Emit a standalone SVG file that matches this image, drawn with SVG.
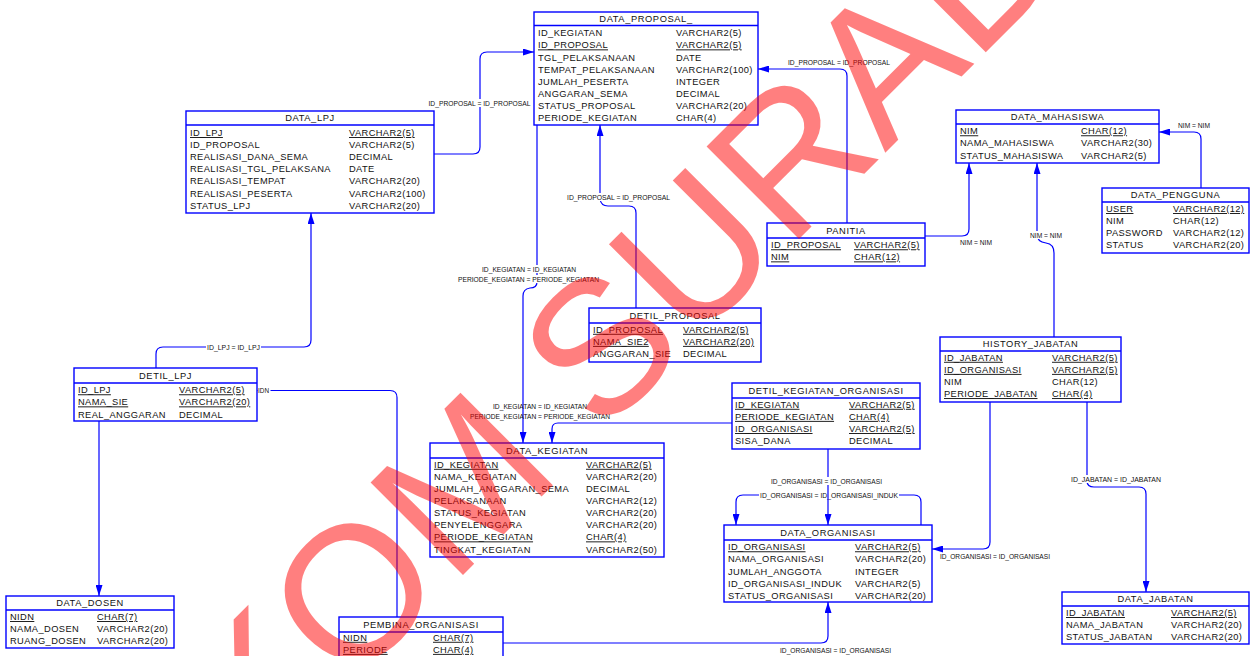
<svg xmlns="http://www.w3.org/2000/svg" width="1250" height="656" viewBox="0 0 1250 656">
<style>
.box{fill:#fff;stroke:#0000ff;stroke-width:1.4}
.hd{stroke:#0000ff;stroke-width:1.4}
text{font-family:"Liberation Sans",Arial,sans-serif;fill:#111}
.t{font-size:9.3px;letter-spacing:0.6px;text-anchor:middle}
.f{font-size:9.3px;letter-spacing:0.4px}
.pk{text-decoration:underline}
.cn{fill:none;stroke:#0000ff;stroke-width:1.2}
.lb{font-size:7px;text-anchor:middle}
.bg{fill:#fff}
.wm{font-size:190px;fill:#ff0000;fill-opacity:0.5;font-family:"Liberation Sans",Arial,sans-serif}
</style>
<defs>
<marker id="ar" markerUnits="userSpaceOnUse" markerWidth="11" markerHeight="7" refX="11" refY="3.5" orient="auto">
<path d="M0,0 L11,3.5 L0,7 z" fill="#0000ff"/>
</marker>
</defs>
<rect width="1250" height="656" fill="#fff"/>

<g id="connectors">
<path class="cn" d="M434,154 H473 Q480,154 480,147 V59 Q480,52 487,52 H534" marker-end="url(#ar)"/>
<rect class="bg" x="428" y="99" width="103" height="8"/><text class="lb" x="479.5" y="105.5" textLength="102" lengthAdjust="spacingAndGlyphs">ID_PROPOSAL = ID_PROPOSAL</text>

<path class="cn" d="M847,223 V76 Q847,69 840,69 H758" marker-end="url(#ar)"/>
<text class="lb" x="839" y="64.5" textLength="102" lengthAdjust="spacingAndGlyphs">ID_PROPOSAL = ID_PROPOSAL</text>

<path class="cn" d="M925,236 H962 Q969,236 969,229 V163" marker-end="url(#ar)"/>
<text class="lb" x="976" y="244.5" textLength="32" lengthAdjust="spacingAndGlyphs">NIM = NIM</text>

<path class="cn" d="M1054,337 V253 Q1054,244 1046,243 Q1037,242 1037,234 V163" marker-end="url(#ar)"/>
<rect class="bg" x="1029" y="231" width="34" height="8"/><text class="lb" x="1046" y="237.5" textLength="32" lengthAdjust="spacingAndGlyphs">NIM = NIM</text>

<path class="cn" d="M1201,188 V139 Q1201,132 1194,132 H1159" marker-end="url(#ar)"/>
<text class="lb" x="1194" y="127.5" textLength="32" lengthAdjust="spacingAndGlyphs">NIM = NIM</text>

<path class="cn" d="M636,308 V213 Q636,206 629,206 H608 Q601,206 600,199 V125" marker-end="url(#ar)"/>
<rect class="bg" x="566" y="193" width="105" height="8"/><text class="lb" x="618.5" y="199.5" textLength="103" lengthAdjust="spacingAndGlyphs">ID_PROPOSAL = ID_PROPOSAL</text>

<path class="cn" d="M537,125 V282 Q537,288 530,288 Q523,289 523,296 V443" marker-end="url(#ar)"/>
<rect class="bg" x="481" y="265" width="96" height="8"/><text class="lb" x="529" y="271.5" textLength="94" lengthAdjust="spacingAndGlyphs">ID_KEGIATAN = ID_KEGIATAN</text>
<rect class="bg" x="457" y="275" width="143" height="8"/><text class="lb" x="528.5" y="281.8" textLength="141" lengthAdjust="spacingAndGlyphs">PERIODE_KEGIATAN = PERIODE_KEGIATAN</text>

<path class="cn" d="M732,423 H558 Q552,423 552,429 V443" marker-end="url(#ar)"/>
<text class="lb" x="540" y="409.3" textLength="94" lengthAdjust="spacingAndGlyphs">ID_KEGIATAN = ID_KEGIATAN</text>
<text class="lb" x="540" y="418.5" textLength="140" lengthAdjust="spacingAndGlyphs">PERIODE_KEGIATAN = PERIODE_KEGIATAN</text>

<path class="cn" d="M156,368 V354 Q156,347 163,347 H304 Q311,347 311,340 V213" marker-end="url(#ar)"/>
<rect class="bg" x="206" y="343" width="55" height="8"/><text class="lb" x="233.5" y="349.5" textLength="53" lengthAdjust="spacingAndGlyphs">ID_LPJ = ID_LPJ</text>

<path class="cn" d="M99,421 V596" marker-end="url(#ar)"/>

<path class="cn" d="M257,390.5 H390 Q397,390.5 397,397.5 V617"/>
<rect class="bg" x="257.5" y="386.5" width="13" height="8"/><text class="lb" x="258" y="393" style="text-anchor:start" textLength="11" lengthAdjust="spacingAndGlyphs">IDN</text>

<path class="cn" d="M503,643 H821 Q828,643 828,636 V602" marker-end="url(#ar)"/>
<text class="lb" x="835.5" y="653.2" textLength="111" lengthAdjust="spacingAndGlyphs">ID_ORGANISASI = ID_ORGANISASI</text>

<path class="cn" d="M921,525 V502 Q921,495 914,495 H743 Q736,495 736,502 V525" marker-end="url(#ar)"/>
<rect class="bg" x="759" y="491" width="140" height="8"/><text class="lb" x="829" y="497.5" textLength="138" lengthAdjust="spacingAndGlyphs">ID_ORGANISASI = ID_ORGANISASI_INDUK</text>

<path class="cn" d="M828,449 V525" marker-end="url(#ar)"/>
<rect class="bg" x="770" y="477" width="113" height="8"/><text class="lb" x="826.5" y="483.5" textLength="111" lengthAdjust="spacingAndGlyphs">ID_ORGANISASI = ID_ORGANISASI</text>

<path class="cn" d="M990,402 V542 Q990,549 983,549 H932" marker-end="url(#ar)"/>
<text class="lb" x="995" y="559.2" textLength="110" lengthAdjust="spacingAndGlyphs">ID_ORGANISASI = ID_ORGANISASI</text>

<path class="cn" d="M1087,402 V481 Q1087,487 1094,487 H1139 Q1146,487 1146,494 V592" marker-end="url(#ar)"/>
<rect class="bg" x="1070" y="475" width="92" height="8"/><text class="lb" x="1116" y="481.5" textLength="90" lengthAdjust="spacingAndGlyphs">ID_JABATAN = ID_JABATAN</text>
</g>

<g id="data_proposal">
<rect class="box" x="534" y="12" width="224" height="113"/><line class="hd" x1="534" y1="25.5" x2="758" y2="25.5"/>
<text class="t" x="646" y="22">DATA_PROPOSAL_</text>
<text class="f" x="538" y="36.3">ID_KEGIATAN</text><text class="f" x="676" y="36.3">VARCHAR2(5)</text>
<text class="f pk" x="538" y="48.4">ID_PROPOSAL</text><text class="f pk" x="676" y="48.4">VARCHAR2(5)</text>
<text class="f" x="538" y="60.5">TGL_PELAKSANAAN</text><text class="f" x="676" y="60.5">DATE</text>
<text class="f" x="538" y="72.6">TEMPAT_PELAKSANAAN</text><text class="f" x="676" y="72.6">VARCHAR2(100)</text>
<text class="f" x="538" y="84.7">JUMLAH_PESERTA</text><text class="f" x="676" y="84.7">INTEGER</text>
<text class="f" x="538" y="96.8">ANGGARAN_SEMA</text><text class="f" x="676" y="96.8">DECIMAL</text>
<text class="f" x="538" y="108.9">STATUS_PROPOSAL</text><text class="f" x="676" y="108.9">VARCHAR2(20)</text>
<text class="f" x="538" y="121">PERIODE_KEGIATAN</text><text class="f" x="676" y="121">CHAR(4)</text>
</g>

<g id="data_lpj">
<rect class="box" x="186" y="111" width="248" height="102"/><line class="hd" x1="186" y1="125" x2="434" y2="125"/>
<text class="t" x="310" y="121.3">DATA_LPJ</text>
<text class="f pk" x="190" y="136">ID_LPJ</text><text class="f pk" x="349" y="136">VARCHAR2(5)</text>
<text class="f" x="190" y="148.1">ID_PROPOSAL</text><text class="f" x="349" y="148.1">VARCHAR2(5)</text>
<text class="f" x="190" y="160.2">REALISASI_DANA_SEMA</text><text class="f" x="349" y="160.2">DECIMAL</text>
<text class="f" x="190" y="172.3">REALISASI_TGL_PELAKSANA</text><text class="f" x="349" y="172.3">DATE</text>
<text class="f" x="190" y="184.4">REALISASI_TEMPAT</text><text class="f" x="349" y="184.4">VARCHAR2(20)</text>
<text class="f" x="190" y="196.5">REALISASI_PESERTA</text><text class="f" x="349" y="196.5">VARCHAR2(100)</text>
<text class="f" x="190" y="208.6">STATUS_LPJ</text><text class="f" x="349" y="208.6">VARCHAR2(20)</text>
</g>

<g id="data_mahasiswa">
<rect class="box" x="956" y="110" width="203" height="53"/><line class="hd" x1="956" y1="124" x2="1159" y2="124"/>
<text class="t" x="1057.5" y="120.3">DATA_MAHASISWA</text>
<text class="f pk" x="960" y="134.3">NIM</text><text class="f pk" x="1081" y="134.3">CHAR(12)</text>
<text class="f" x="960" y="146.4">NAMA_MAHASISWA</text><text class="f" x="1081" y="146.4">VARCHAR2(30)</text>
<text class="f" x="960" y="158.5">STATUS_MAHASISWA</text><text class="f" x="1081" y="158.5">VARCHAR2(5)</text>
</g>

<g id="data_pengguna">
<rect class="box" x="1102" y="188" width="147" height="65"/><line class="hd" x1="1102" y1="202" x2="1249" y2="202"/>
<text class="t" x="1175.5" y="198.3">DATA_PENGGUNA</text>
<text class="f pk" x="1106" y="212">USER</text><text class="f pk" x="1173" y="212">VARCHAR2(12)</text>
<text class="f" x="1106" y="224.1">NIM</text><text class="f" x="1173" y="224.1">CHAR(12)</text>
<text class="f" x="1106" y="236.2">PASSWORD</text><text class="f" x="1173" y="236.2">VARCHAR2(12)</text>
<text class="f" x="1106" y="248.3">STATUS</text><text class="f" x="1173" y="248.3">VARCHAR2(20)</text>
</g>

<g id="panitia">
<rect class="box" x="767" y="223" width="158" height="43"/><line class="hd" x1="767" y1="238" x2="925" y2="238"/>
<text class="t" x="846" y="233.8">PANITIA</text>
<text class="f pk" x="771" y="248.3">ID_PROPOSAL</text><text class="f pk" x="854" y="248.3">VARCHAR2(5)</text>
<text class="f pk" x="771" y="260.4">NIM</text><text class="f pk" x="854" y="260.4">CHAR(12)</text>
</g>

<g id="detil_proposal">
<rect class="box" x="589" y="308" width="172" height="54"/><line class="hd" x1="589" y1="323" x2="761" y2="323"/>
<text class="t" x="675" y="318.8">DETIL_PROPOSAL</text>
<text class="f pk" x="593" y="332.8">ID_PROPOSAL</text><text class="f pk" x="683" y="332.8">VARCHAR2(5)</text>
<text class="f pk" x="593" y="344.9">NAMA_SIE2</text><text class="f pk" x="683" y="344.9">VARCHAR2(20)</text>
<text class="f" x="593" y="357">ANGGARAN_SIE</text><text class="f" x="683" y="357">DECIMAL</text>
</g>

<g id="detil_lpj">
<rect class="box" x="74" y="368" width="183" height="53"/><line class="hd" x1="74" y1="383" x2="257" y2="383"/>
<text class="t" x="165.5" y="378.8">DETIL_LPJ</text>
<text class="f pk" x="78" y="393.3">ID_LPJ</text><text class="f pk" x="179" y="393.3">VARCHAR2(5)</text>
<text class="f pk" x="78" y="405.4">NAMA_SIE</text><text class="f pk" x="179" y="405.4">VARCHAR2(20)</text>
<text class="f" x="78" y="417.5">REAL_ANGGARAN</text><text class="f" x="179" y="417.5">DECIMAL</text>
</g>

<g id="data_kegiatan">
<rect class="box" x="430" y="443" width="234" height="114"/><line class="hd" x1="430" y1="458" x2="664" y2="458"/>
<text class="t" x="547" y="453.8">DATA_KEGIATAN</text>
<text class="f pk" x="434" y="467.8">ID_KEGIATAN</text><text class="f pk" x="586" y="467.8">VARCHAR2(5)</text>
<text class="f" x="434" y="479.9">NAMA_KEGIATAN</text><text class="f" x="586" y="479.9">VARCHAR2(20)</text>
<text class="f" x="434" y="492">JUMLAH_ANGGARAN_SEMA</text><text class="f" x="586" y="492">DECIMAL</text>
<text class="f" x="434" y="504.1">PELAKSANAAN</text><text class="f" x="586" y="504.1">VARCHAR2(12)</text>
<text class="f" x="434" y="516.2">STATUS_KEGIATAN</text><text class="f" x="586" y="516.2">VARCHAR2(20)</text>
<text class="f" x="434" y="528.3">PENYELENGGARA</text><text class="f" x="586" y="528.3">VARCHAR2(20)</text>
<text class="f pk" x="434" y="540.4">PERIODE_KEGIATAN</text><text class="f pk" x="586" y="540.4">CHAR(4)</text>
<text class="f" x="434" y="552.5">TINGKAT_KEGIATAN</text><text class="f" x="586" y="552.5">VARCHAR2(50)</text>
</g>

<g id="detil_kegiatan_organisasi">
<rect class="box" x="732" y="383" width="188" height="66"/><line class="hd" x1="732" y1="398" x2="920" y2="398"/>
<text class="t" x="826" y="393.8">DETIL_KEGIATAN_ORGANISASI</text>
<text class="f pk" x="735" y="407.8">ID_KEGIATAN</text><text class="f pk" x="849" y="407.8">VARCHAR2(5)</text>
<text class="f pk" x="735" y="419.9">PERIODE_KEGIATAN</text><text class="f pk" x="849" y="419.9">CHAR(4)</text>
<text class="f pk" x="735" y="432">ID_ORGANISASI</text><text class="f pk" x="849" y="432">VARCHAR2(5)</text>
<text class="f" x="735" y="444.1">SISA_DANA</text><text class="f" x="849" y="444.1">DECIMAL</text>
</g>

<g id="history_jabatan">
<rect class="box" x="940" y="337" width="181" height="65"/><line class="hd" x1="940" y1="351" x2="1121" y2="351"/>
<text class="t" x="1030.5" y="347.3">HISTORY_JABATAN</text>
<text class="f pk" x="944" y="360.8">ID_JABATAN</text><text class="f pk" x="1052" y="360.8">VARCHAR2(5)</text>
<text class="f pk" x="944" y="372.9">ID_ORGANISASI</text><text class="f pk" x="1052" y="372.9">VARCHAR2(5)</text>
<text class="f" x="944" y="385">NIM</text><text class="f" x="1052" y="385">CHAR(12)</text>
<text class="f pk" x="944" y="397.1">PERIODE_JABATAN</text><text class="f pk" x="1052" y="397.1">CHAR(4)</text>
</g>

<g id="data_organisasi">
<rect class="box" x="724" y="525" width="208" height="77"/><line class="hd" x1="724" y1="540" x2="932" y2="540"/>
<text class="t" x="828" y="535.8">DATA_ORGANISASI</text>
<text class="f pk" x="728" y="550.3">ID_ORGANISASI</text><text class="f pk" x="855" y="550.3">VARCHAR2(5)</text>
<text class="f" x="728" y="562.4">NAMA_ORGANISASI</text><text class="f" x="855" y="562.4">VARCHAR2(20)</text>
<text class="f" x="728" y="574.5">JUMLAH_ANGGOTA</text><text class="f" x="855" y="574.5">INTEGER</text>
<text class="f" x="728" y="586.6">ID_ORGANISASI_INDUK</text><text class="f" x="855" y="586.6">VARCHAR2(5)</text>
<text class="f" x="728" y="598.7">STATUS_ORGANISASI</text><text class="f" x="855" y="598.7">VARCHAR2(20)</text>
</g>

<g id="data_jabatan">
<rect class="box" x="1062" y="592" width="187" height="52"/><line class="hd" x1="1062" y1="606" x2="1249" y2="606"/>
<text class="t" x="1155.5" y="602.3">DATA_JABATAN</text>
<text class="f pk" x="1066" y="616">ID_JABATAN</text><text class="f pk" x="1171" y="616">VARCHAR2(5)</text>
<text class="f" x="1066" y="628.1">NAMA_JABATAN</text><text class="f" x="1171" y="628.1">VARCHAR2(20)</text>
<text class="f" x="1066" y="640.2">STATUS_JABATAN</text><text class="f" x="1171" y="640.2">VARCHAR2(20)</text>
</g>

<g id="data_dosen">
<rect class="box" x="6" y="596" width="168" height="52"/><line class="hd" x1="6" y1="610" x2="174" y2="610"/>
<text class="t" x="90" y="606.3">DATA_DOSEN</text>
<text class="f pk" x="10" y="620">NIDN</text><text class="f pk" x="97" y="620">CHAR(7)</text>
<text class="f" x="10" y="632.1">NAMA_DOSEN</text><text class="f" x="97" y="632.1">VARCHAR2(20)</text>
<text class="f" x="10" y="644.2">RUANG_DOSEN</text><text class="f" x="97" y="644.2">VARCHAR2(20)</text>
</g>

<g id="pembina_organisasi">
<rect class="box" x="339" y="617" width="164" height="50"/><line class="hd" x1="339" y1="632" x2="503" y2="632"/>
<text class="t" x="421" y="627.8">PEMBINA_ORGANISASI</text>
<text class="f pk" x="343" y="640.8">NIDN</text><text class="f pk" x="433" y="640.8">CHAR(7)</text>
<text class="f pk" x="343" y="652.9">PERIODE</text><text class="f pk" x="433" y="652.9">CHAR(4)</text>
</g>

<g id="watermark">
<text class="wm" transform="translate(49,989) rotate(-45)" x="0" y="0">STIKOM SURABAYA</text>
</g>
</svg>
